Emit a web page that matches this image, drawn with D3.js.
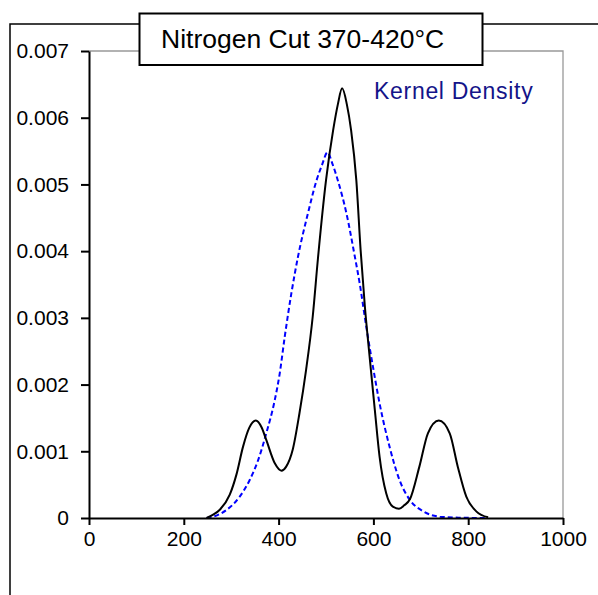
<!DOCTYPE html>
<html>
<head>
<meta charset="utf-8">
<script src="https://cdn.jsdelivr.net/npm/d3@7"></script>
<style>
  html, body { margin: 0; padding: 0; background: #fff; }
  svg { display: block; font-family: "Liberation Sans", Arial, sans-serif; }
</style>
</head>
<body>
<svg id="chart" width="598" height="595"></svg>
<script>
// ---- data ----
const titleText = "Nitrogen Cut 370-420\u00B0C";
const legendText = "Kernel Density";

const xTicks = [0, 200, 400, 600, 800, 1000];
const yTicks = [0, 0.001, 0.002, 0.003, 0.004, 0.005, 0.006, 0.007];
const yTickLabels = ["0", "0.001", "0.002", "0.003", "0.004", "0.005", "0.006", "0.007"];

// black solid curve
const blackX = [248, 262, 276, 297, 311, 325, 338, 352, 364, 374, 392, 406, 416, 430, 444, 458, 472, 483, 500, 515, 525, 534, 544, 553, 564, 573, 582, 592, 603, 613, 627, 641, 654, 665, 677, 697, 715, 738, 761, 778, 796, 817, 842];
const blackY = [0, 0.00005, 0.000124, 0.00035, 0.00065, 0.00107, 0.00135, 0.00146, 0.00136, 0.00117, 0.00082, 0.00071, 0.00077, 0.00103, 0.00157, 0.00222, 0.00302, 0.00389, 0.00506, 0.00581, 0.0062, 0.00644, 0.0062, 0.00581, 0.00506, 0.00402, 0.00317, 0.00242, 0.00162, 0.00092, 0.00037, 0.00017, 0.00014, 0.00019, 0.00028, 0.00077, 0.00127, 0.00146, 0.00127, 0.00077, 0.00032, 0.0001, 0.00001];

// blue dashed curve (kernel density)
const blueX = [248, 270, 290, 318, 339, 357, 374, 392, 402, 413, 427, 441, 462, 480, 492, 503, 514, 525, 543, 560, 571, 586, 599, 613, 634, 655, 677, 705, 740, 780, 842];
const blueY = [0, 0.00004, 0.00012, 0.00032, 0.00057, 0.00087, 0.00127, 0.00177, 0.00215, 0.00272, 0.00337, 0.00392, 0.00457, 0.00506, 0.0053, 0.00548, 0.0053, 0.00506, 0.00457, 0.00395, 0.00352, 0.00282, 0.00227, 0.00172, 0.00107, 0.00057, 0.00027, 0.0001, 0.00002, 0.000005, 0];

// ---- drawing ----
const svg = d3.select("#chart");
const pLeft = 89, pRight = 563, pTop = 51, pBottom = 518;

const x = d3.scaleLinear().domain([0, 1000]).range([pLeft, pRight]);
const y = d3.scaleLinear().domain([0, 0.007]).range([pBottom, pTop]);

// outer frame (extends beyond the canvas on right/bottom)
svg.append("rect")
  .attr("x", 10).attr("y", 24)
  .attr("width", 640).attr("height", 640)
  .attr("fill", "none").attr("stroke", "#000").attr("stroke-width", 1.5);

// plot border (grey top and right)
svg.append("path")
  .attr("d", `M${pLeft},${pTop}H${pRight}V${pBottom}`)
  .attr("fill", "none").attr("stroke", "#999").attr("stroke-width", 1.3);

// curves
const line = d3.line().x(d => x(d[0])).y(d => y(d[1])).curve(d3.curveMonotoneX);

svg.append("path")
  .datum(blueX.map((v, i) => [v, blueY[i]]))
  .attr("d", line)
  .attr("fill", "none").attr("stroke", "#0000ff").attr("stroke-width", 2)
  .attr("stroke-dasharray", "5,3");

svg.append("path")
  .datum(blackX.map((v, i) => [v, blackY[i]]))
  .attr("d", line)
  .attr("fill", "none").attr("stroke", "#000").attr("stroke-width", 2);

// axes
const xAxis = d3.axisBottom(x).tickValues(xTicks).tickSize(7).tickSizeOuter(0).tickPadding(6)
  .tickFormat(d3.format("d"));
const gx = svg.append("g").attr("transform", `translate(0,${pBottom})`).call(xAxis);
gx.select(".domain").attr("stroke", "#000").attr("stroke-width", 2);
gx.selectAll(".tick line").attr("stroke", "#000").attr("stroke-width", 2);
gx.selectAll(".tick text").attr("font-size", "21px").attr("fill", "#000")
  .attr("font-family", "'Liberation Sans', Arial, sans-serif").attr("dy", "0.71em");

const yAxis = d3.axisLeft(y).tickValues(yTicks).tickSize(8).tickSizeOuter(0).tickPadding(12)
  .tickFormat((d, i) => yTickLabels[i]);
const gy = svg.append("g").attr("transform", `translate(${pLeft},0)`).call(yAxis);
gy.select(".domain").attr("stroke", "#000").attr("stroke-width", 2);
gy.selectAll(".tick line").attr("stroke", "#000").attr("stroke-width", 2);
gy.selectAll(".tick text").attr("font-size", "21px").attr("fill", "#000")
  .attr("font-family", "'Liberation Sans', Arial, sans-serif");

// legend label
svg.append("text")
  .attr("x", 374).attr("y", 99)
  .attr("font-size", "23px").attr("letter-spacing", "0.7px")
  .attr("fill", "#141489")
  .text(legendText);

// title box
svg.append("rect")
  .attr("x", 139.5).attr("y", 13.5).attr("width", 343).attr("height", 51.5)
  .attr("fill", "#fff").attr("stroke", "#000").attr("stroke-width", 2);
svg.append("text")
  .attr("x", 161).attr("y", 48)
  .attr("font-size", "26.5px").attr("fill", "#000")
  .text(titleText);
</script>
</body>
</html>
